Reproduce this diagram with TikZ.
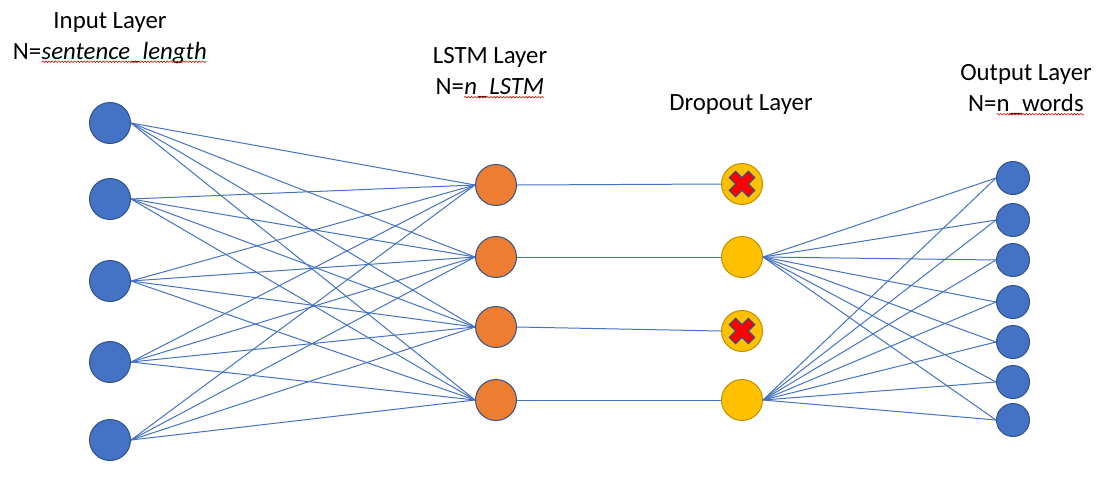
\documentclass[tikz,border=0pt]{standalone}
\usepackage{fontspec}
\setmainfont{Carlito}
\usepackage{tikz}
\usetikzlibrary{decorations.pathmorphing}
\definecolor{nodeblue}{HTML}{4472C4}
\definecolor{rimblue}{HTML}{2F528F}
\definecolor{lstmorange}{HTML}{ED7D31}
\definecolor{dropgold}{HTML}{FFC000}
\definecolor{droprim}{HTML}{BF9000}
\tikzset{
    inputnode/.style={circle, minimum size=20.5pt, inner sep=0pt, fill=nodeblue, draw=rimblue, line width=0.5pt},
    lstmnode/.style={circle, minimum size=20.5pt, inner sep=0pt, fill=lstmorange, draw=rimblue, line width=0.5pt},
    dropnode/.style={circle, minimum size=20.5pt, inner sep=0pt, fill=dropgold, draw=droprim, line width=0.5pt},
    outnode/.style={circle, minimum size=16.5pt, inner sep=0pt, fill=nodeblue, draw=rimblue, line width=0.5pt},
    title/.style={align=center, font=\fontsize{12.4}{15.5}\selectfont},
    link/.style={nodeblue, line width=0.5pt},
    dropmark/.pic={
        \filldraw[fill=red, draw=rimblue, line width=0.5pt, rotate=45]
            (4.5,13.5) -- (4.5,4.5) -- (13.5,4.5) -- (13.5,-4.5) -- (4.5,-4.5) -- (4.5,-13.5)
            -- (-4.5,-13.5) -- (-4.5,-4.5) -- (-13.5,-4.5) -- (-13.5,4.5) -- (-4.5,4.5) -- (-4.5,13.5) -- cycle;
    }
}
% red spell-check wave under a word
\newcommand{\spellwave}[1]{\tikz[baseline=(w.base)]{\node[inner sep=0pt, outer sep=0pt] (w) {#1};
    \draw[red, line width=0.3pt, decorate, decoration={snake, amplitude=0.4pt, segment length=1.6pt}]
        ([yshift=-1.2pt]w.base west) -- ([yshift=-1.2pt]w.base east);}}

\begin{document}
\begin{tikzpicture}[x=0.5pt, y=-0.5pt]
    \useasboundingbox (0,0) rectangle (1118,483);

    % Titles
    \node (tin) [title] at (110,38) {Input Layer\\N=\spellwave{\itshape sentence\_length}};
    \node (tlstm) [title] at (490,73) {LSTM Layer\\N=\spellwave{\itshape n\_LSTM}};
    \node (tdrop) [title] at (741,105) {Dropout Layer};
    \node (tout) [title] at (1026,90) {Output Layer\\N=\spellwave{n\_words}};

    % Input layer
    \node (in1) [inputnode] at (110,123) {};
    \node (in2) [inputnode] at (110,199) {};
    \node (in3) [inputnode] at (110,281) {};
    \node (in4) [inputnode] at (110,362) {};
    \node (in5) [inputnode] at (110,440) {};

    % LSTM layer
    \node (lstm1) [lstmnode] at (496,185) {};
    \node (lstm2) [lstmnode] at (496,257) {};
    \node (lstm3) [lstmnode] at (496,327) {};
    \node (lstm4) [lstmnode] at (496,400) {};

    % Dropout layer
    \node (drop1) [dropnode] at (742,184) {};
    \node (drop2) [dropnode] at (742,257) {};
    \node (drop3) [dropnode] at (742,331) {};
    \node (drop4) [dropnode] at (742,400) {};
    \pic at (drop1) {dropmark};
    \pic at (drop3) {dropmark};

    % Output layer
    \node (out1) [outnode] at (1013,178) {};
    \node (out2) [outnode] at (1013,220) {};
    \node (out3) [outnode] at (1013,260) {};
    \node (out4) [outnode] at (1013,302) {};
    \node (out5) [outnode] at (1013,342) {};
    \node (out6) [outnode] at (1013,382) {};
    \node (out7) [outnode] at (1013,420) {};

    % Edges
    \foreach \i in {1,...,5}
        \foreach \j in {1,...,4}
            \draw [link] (in\i.east) -- (lstm\j.west);
    \foreach \j in {1,...,4}
        \draw [link] (lstm\j.east) -- (drop\j.west);
    \foreach \k in {2,4}
        \foreach \m in {1,...,7}
            \draw [link] (drop\k.east) -- (out\m.west);
\end{tikzpicture}
\end{document}
